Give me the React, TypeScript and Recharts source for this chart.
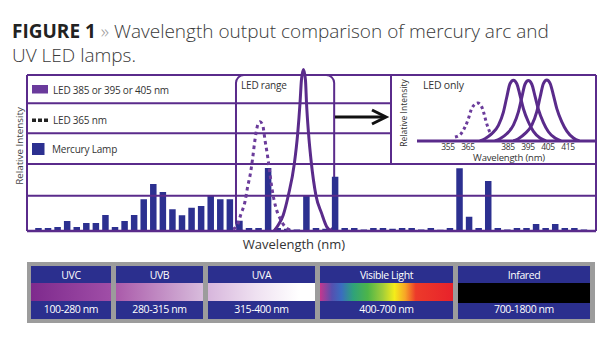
import React from 'react';
import {
  ComposedChart, LineChart, Bar, Line, XAxis, YAxis, ReferenceLine, ReferenceArea
} from 'recharts';

// colours picked off the figure
const PURPLE = '#5a2b8b';
const DOT_PURPLE = '#6b3c9b';
const NAVY = '#2c3090';
const TEXT = '#333';

// mercury arc lamp, one bar per bin (100 = top of frame)
const mercury = [
  2, 2, 2.6, 6.4, 2.6, 5.1, 5.1, 10.3, 2.6, 6.4,
  10.3, 20.3, 30.1, 25, 13.9, 10.1, 14.9, 16, 22.4, 20.3,
  20.3, 6.6, 2, 2, 40.4, 2, 1.4, 1, 22.4, 2,
  1.5, 34.8, 2, 2, 1, 2, 2, 1.4, 2, 2,
  1, 2, 0.8, 2, 40.2, 9.2, 2, 32, 2, 1,
  2, 2, 4.5, 2, 4.5, 2, 2, 1,
];

// LED 365 nm curve over the mercury bins (dotted)
const led365Bin = [21.38, 21.76, 22.21, 22.63, 22.91, 23.23, 23.43, 23.67, 23.96, 24.2, 24.48, 24.72, 25.0, 25.21, 25.42, 25.87, 26.29, 26.81, 27.33];
const led365Val = [1.3, 2.8, 10.9, 18.8, 28.4, 38, 46.6, 58.3, 67.9, 70, 67.9, 58.3, 47.6, 38, 28.4, 14.7, 8.1, 2.8, 0.6];

// LED 385/395/405 curve over the mercury bins (solid)
const ledUvBin = [25.66, 26.11, 26.63, 27.15, 27.78, 28.14, 28.38, 28.53, 28.74, 28.95, 29.06, 29.27, 29.53, 30.05, 30.64, 31.17, 31.62];
const ledUvVal = [0, 3.8, 10.3, 22.6, 42.9, 62.6, 81.9, 96.8, 103.5, 96.8, 81.9, 62.6, 45.5, 22.6, 11.3, 2.8, 0];

// "LED only" inset, x in nm
const in365Nm = [358.5, 361.5, 363.5, 365.2, 366.5, 368.2, 369.9, 371.9, 373, 374, 375.2, 376.9];
const in365Val = [6.1, 11.1, 21.2, 33.8, 46.5, 55, 57.6, 51.5, 41.4, 29.8, 18.6, 8.6];
const in385Nm = [371, 373.5, 376.9, 380.2, 382.7, 384.4, 386, 387.7, 389.4, 391, 392.7, 395.2, 397.7, 401, 404];
const in385Val = [0, 3.5, 11.1, 23.8, 43.9, 66.7, 86.8, 92, 86.8, 69.2, 48.9, 28.8, 14.7, 4.5, 0];
const in395Nm = [378.5, 381, 384.4, 387.7, 390.2, 391.9, 393.5, 395.2, 396.9, 398.5, 400.2, 402.7, 405.2, 408.5, 411.5];
const in395Val = [0, 3.5, 11, 24, 44, 66, 86, 91.5, 86, 68, 48, 28, 14, 4.5, 0];
const in405Nm = [387.7, 390.2, 393.6, 396.9, 399.4, 401.1, 402.7, 404.4, 406.1, 407.7, 409.4, 411.9, 414.4, 417.7, 420.7];
const in405Val = [0, 3.5, 11.5, 24, 44.5, 67, 87, 92.5, 87, 69.5, 49, 29, 15, 4.5, 0];
const insetTicks = [355, 365, 385, 395, 405, 415];

// frame rows
const rowLines = [22.6, 42.9];
const legendRows = [81.9, 62.6];

const legendLabels = ['LED 385 or 395 or 405 nm', 'LED 365 nm', 'Mercury Lamp'];
const bandNames = ['UVC', 'UVB', 'UVA', 'Visible Light', 'Infared'];
const bandRanges = ['100-280 nm', '280-315 nm', '315-400 nm', '400-700 nm', '700-1800 nm'];

// layout
const X_MIN = -0.149;
const X_MAX = 59.31;
const INSET_EDGE = 37.89;
const bandEdges = [[31, 111], [116, 203], [208, 315], [320, 453], [458, 590]];
const bandFills = [
  'linear-gradient(90deg, #7e2a8d, #a04ea7)',
  'linear-gradient(90deg, #aa5aaa, #d8bcdc)',
  'linear-gradient(90deg, #d7b6dc 0%, #efe1f1 45%, #ffffff 85%)',
  'linear-gradient(90deg, #c4378e 0%, #5550b0 9%, #3a6cc0 16%, #2fa27a 25%, #4db548 36%, #a0cd3a 47%, #f4ec1a 56%, #f7a626 64%, #ec3a2a 72%, #e8222b 100%)',
  '#000',
];

const toPoints = (xs: number[], ys: number[], key: string) => xs.map((x, i) => ({ [key]: x, v: ys[i] }));

const mercuryData = mercury.map((hg, i) => ({ bin: i + 1, hg }));
const led365Data = toPoints(led365Bin, led365Val, 'bin');
const ledUvData = toPoints(ledUvBin, ledUvVal, 'bin');

const Txt = ({ x, y, size, children, mid = false, rotate = false, color = TEXT, ls = 0 }: any) => (
  <div
    style={{
      position: 'absolute', left: x, top: y, fontSize: size, lineHeight: 1, color,
      letterSpacing: ls, whiteSpace: 'nowrap',
      transform: `translate(${mid || rotate ? '-50%' : '0'}, -50%)${rotate ? ' rotate(-90deg)' : ''}`,
    }}
  >
    {children}
  </div>
);

const RoundBox = (p: any) => (
  <rect x={p.x} y={p.y} width={p.width} height={p.height} rx={8} ry={8}
    fill="none" stroke={PURPLE} strokeWidth={2} />
);

export default function App() {
  return (
    <div style={{
      position: 'absolute', left: 0, top: 0, width: 615, height: 350, background: '#fff',
      fontFamily: '"Open Sans", sans-serif', overflow: 'hidden',
    }}>
      <div style={{ position: 'absolute', left: 12, top: 18.5, fontSize: 19, lineHeight: '24.5px', color: '#3a3a3a', fontWeight: 300, whiteSpace: 'nowrap' }}>
        <span style={{ fontWeight: 700, color: '#222' }}>FIGURE 1</span>{' '}
        <span style={{ color: '#9a9a9a' }}>»</span> Wavelength output comparison of mercury arc and
        <br />UV LED lamps.
      </div>

      <div style={{ position: 'absolute', left: 0, top: 0 }}>
        <ComposedChart width={615} height={260} data={mercuryData}
          margin={{ top: 65.64, right: 19, bottom: 29, left: 27 }}>
          <XAxis type="number" dataKey="bin" domain={[X_MIN, X_MAX]} allowDataOverflow hide />
          <XAxis xAxisId="curve" type="number" dataKey="bin" domain={[X_MIN, X_MAX]} allowDataOverflow hide />
          <YAxis type="number" domain={[0, 106]} allowDataOverflow hide />
          <ReferenceArea x1={21.69} x2={31.95} y1={0} y2={100} ifOverflow="visible" shape={RoundBox} />
          {rowLines.map((y) => (
            <ReferenceLine key={y} y={y} stroke={PURPLE} strokeWidth={2} ifOverflow="visible" />
          ))}
          {legendRows.map((y) => (
            <ReferenceLine key={y} segment={[{ x: X_MIN, y }, { x: INSET_EDGE, y }]}
              stroke={PURPLE} strokeWidth={2} ifOverflow="visible" />
          ))}
          <ReferenceLine segment={[{ x: INSET_EDGE, y: 42.9 }, { x: INSET_EDGE, y: 100 }]}
            stroke={PURPLE} strokeWidth={2} ifOverflow="visible" />
          <ReferenceLine y={100} stroke={PURPLE} strokeWidth={2} ifOverflow="visible" />
          <ReferenceLine segment={[{ x: X_MIN, y: 0 }, { x: X_MIN, y: 100 }]}
            stroke={PURPLE} strokeWidth={2} ifOverflow="visible" />
          <ReferenceLine segment={[{ x: X_MAX, y: 0 }, { x: X_MAX, y: 100 }]}
            stroke={PURPLE} strokeWidth={2} ifOverflow="visible" />
          <Bar dataKey="hg" fill={NAVY} barSize={6.5} isAnimationActive={false} />
          <ReferenceLine y={0} stroke={PURPLE} strokeWidth={2.5} ifOverflow="visible" />
          <Line xAxisId="curve" data={ledUvData} dataKey="v" type="monotone" stroke={PURPLE} strokeWidth={3}
            dot={false} activeDot={false} isAnimationActive={false} />
          <Line xAxisId="curve" data={led365Data} dataKey="v" type="monotone" stroke={DOT_PURPLE} strokeWidth={3}
            strokeDasharray="3.5 3.5" dot={false} activeDot={false} isAnimationActive={false} />
        </ComposedChart>
      </div>

      <div style={{ position: 'absolute', left: 392, top: 60 }}>
        <LineChart width={204} height={105} margin={{ top: 15, right: 0, bottom: 4, left: 25 }}>
          <XAxis type="number" dataKey="nm" domain={[339.5, 429]} allowDataOverflow ticks={insetTicks}
            interval={0} tickLine={false} tickSize={0} tickMargin={3} height={20}
            axisLine={{ stroke: PURPLE, strokeWidth: 3 }}
            tick={{ fontSize: 8.5, fill: TEXT, letterSpacing: -0.4 }} />
          <YAxis type="number" domain={[0, 100]} allowDataOverflow width={0} tick={false} tickLine={false}
            axisLine={{ stroke: PURPLE, strokeWidth: 2 }} />
          <Line data={toPoints(in365Nm, in365Val, 'nm')} dataKey="v" type="monotone" stroke={DOT_PURPLE}
            strokeWidth={3} strokeDasharray="3 3" dot={false} activeDot={false} isAnimationActive={false} />
          <Line data={toPoints(in385Nm, in385Val, 'nm')} dataKey="v" type="monotone" stroke={PURPLE}
            strokeWidth={3} dot={false} activeDot={false} isAnimationActive={false} />
          <Line data={toPoints(in395Nm, in395Val, 'nm')} dataKey="v" type="monotone" stroke={PURPLE}
            strokeWidth={3} dot={false} activeDot={false} isAnimationActive={false} />
          <Line data={toPoints(in405Nm, in405Val, 'nm')} dataKey="v" type="monotone" stroke={PURPLE}
            strokeWidth={3} dot={false} activeDot={false} isAnimationActive={false} />
        </LineChart>
      </div>

      {/* legend + annotations */}
      <svg width={615} height={350} style={{ position: 'absolute', left: 0, top: 0, pointerEvents: 'none' }}>
        <rect x={32} y={85} width={16} height={8.5} fill="#6a3a9c" />
        <rect x={32} y={118.5} width={4} height={3.5} fill="#222" />
        <rect x={38} y={118.5} width={4} height={3.5} fill="#222" />
        <rect x={44} y={118.5} width={4} height={3.5} fill="#222" />
        <rect x={32} y={143} width={12.5} height={12} fill={NAVY} />
        <line x1={335} y1={117} x2={385} y2={117} stroke="#111" strokeWidth={3} />
        <polyline points="372,110 386,117 372,124" fill="none" stroke="#111" strokeWidth={3} />
      </svg>
      <Txt x={53} y={89.5} size={10} ls={-0.2}>{legendLabels[0]}</Txt>
      <Txt x={53} y={120} size={10} ls={-0.2}>{legendLabels[1]}</Txt>
      <Txt x={52} y={148.5} size={10} ls={-0.2}>{legendLabels[2]}</Txt>
      <Txt x={241} y={84.5} size={10} ls={-0.2}>LED range</Txt>
      <Txt x={423} y={85} size={10.5} ls={-0.2}>LED only</Txt>
      <Txt x={404} y={112.5} size={8.5} rotate>Relative Intensity</Txt>
      <Txt x={509} y={158} size={9.5} mid ls={-0.2}>Wavelength (nm)</Txt>
      <Txt x={20} y={145.5} size={9.8} rotate color="#444">Relative Intensity</Txt>
      <Txt x={294} y={244} size={13} mid>Wavelength (nm)</Txt>

      {/* spectrum band */}
      <div style={{ position: 'absolute', left: 27, top: 262, width: 568, height: 61, background: '#9c9c9c' }} />
      {bandNames.map((name, i) => {
        const [x0, x1] = bandEdges[i];
        return (
          <div key={name} style={{ position: 'absolute', left: x0, top: 266, width: x1 - x0, height: 53, background: '#2b2f8e' }}>
            <div style={{ position: 'absolute', left: 0, right: 0, top: 2, height: 15, textAlign: 'center', color: '#fff', fontSize: 10.5, lineHeight: '15px', letterSpacing: -0.4 }}>{name}</div>
            <div style={{ position: 'absolute', left: 0, right: 0, top: 17, height: i === 4 ? 20 : 18, background: bandFills[i] }} />
            <div style={{ position: 'absolute', left: 0, right: 0, top: 36, height: 15, textAlign: 'center', color: '#fff', fontSize: 10.5, lineHeight: '15px', letterSpacing: -0.4 }}>{bandRanges[i]}</div>
          </div>
        );
      })}
    </div>
  );
}
